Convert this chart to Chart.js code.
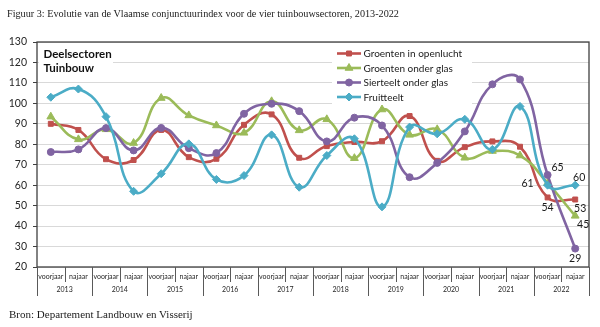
<!DOCTYPE html>
<html>
<head>
<meta charset="utf-8">
<script src="https://cdn.jsdelivr.net/npm/chart.js@4.4.1/dist/chart.umd.min.js"></script>
<style>
  html, body { margin: 0; padding: 0; background: #fff; }
  #wrap { position: relative; width: 600px; height: 327px; overflow: hidden; background: #fff; }
  #c { position: absolute; left: 0; top: 0; }
  .note { position: absolute; left: 7px; font-family: "Liberation Serif", serif; color: #1a1a1a; white-space: nowrap; }
  #title { top: 8px; font-size: 10.2px; }
  #source { top: 308px; left: 9px; font-size: 11px; }
</style>
</head>
<body>
<div id="wrap">
  <canvas id="c" width="600" height="327"></canvas>
  <div id="title" class="note">Figuur 3: Evolutie van de Vlaamse conjunctuurindex voor de vier tuinbouwsectoren, 2013-2022</div>
  <div id="source" class="note">Bron: Departement Landbouw en Visserij</div>
</div>
<script>
// Periods: spring and autumn survey of each year
const years = ['2013', '2014', '2015', '2016', '2017', '2018', '2019', '2020', '2021', '2022'];
const seasons = ['voorjaar', 'najaar'];

// Conjunctuurindex per deelsector
const groentenOpenlucht = [90, 87, 72.7, 72.3, 87, 73.7, 72.9, 89.5, 94.6, 73.4, 79.1, 81.1, 81.5, 93.8, 71.9, 78.6, 81.4, 78.8, 54, 53];
const groentenOnderGlas = [93.5, 82.4, 87.3, 80.6, 102.6, 94.1, 89.2, 85.6, 101, 86.8, 92.2, 73.2, 97, 84.6, 87.3, 73.4, 76.7, 74.5, 61, 45];
const sierteeltOnderGlas = [76.2, 77.5, 87.9, 77, 88, 78.1, 75.7, 94.9, 99.8, 96.2, 81.4, 93, 89.2, 63.9, 70.9, 86.3, 109.3, 111.7, 65, 29];
const fruitteelt = [103, 107, 93.5, 57, 65.6, 80.2, 62.8, 64.7, 84.6, 59, 74.5, 82.7, 49.4, 88.4, 85.1, 92.2, 77.5, 98.5, 60, 60];

const seriesNames = ['Groenten in openlucht', 'Groenten onder glas', 'Sierteelt onder glas', 'Fruitteelt'];
const yTicks = { min: 20, max: 130, step: 10 };

const periodLabels = years.flatMap(y => seasons.map(s => s + ' ' + y));

// Value labels on the last two periods: [series index, period index, dx, dy]
const valueLabels = [
  [2, 18, 10, -7],
  [1, 18, -20, 0],
  [0, 18, 0, 10],
  [3, 19, 4, -8],
  [0, 19, 5, 9],
  [1, 19, 8, 9],
  [2, 19, 0, 10]
];

const FONT = 'Lato, "Liberation Sans", sans-serif';
const INK = '#262626';
const FRAME = '#404040';

const styles = [
  { color: '#C0504D', pointStyle: 'rect', radius: 3.5 },
  { color: '#9BBB59', pointStyle: 'triangle', radius: 4.5 },
  { color: '#8064A2', pointStyle: 'circle', radius: 3.5 },
  { color: '#4BACC6', pointStyle: 'rectRot', radius: 4 }
];
const seriesData = [groentenOpenlucht, groentenOnderGlas, sierteeltOnderGlas, fruitteelt];

const datasets = seriesData.map((d, i) => ({
  label: seriesNames[i],
  data: d,
  borderColor: styles[i].color,
  backgroundColor: styles[i].color,
  pointBackgroundColor: styles[i].color,
  pointBorderColor: styles[i].color,
  pointStyle: styles[i].pointStyle,
  pointRadius: styles[i].radius,
  pointBorderWidth: 1,
  borderWidth: 2.6,
  tension: 0.45,
  fill: false,
  order: seriesData.length - i
}));

// White boxes for the sector caption and the legend, drawn over the gridlines
const boxes = {
  id: 'boxes',
  beforeDatasetsDraw(chart) {
    const ctx = chart.ctx;
    ctx.save();
    ctx.fillStyle = '#fff';
    ctx.fillRect(39, 44, 74, 32);
    ctx.fillRect(332, 44, 140, 60);

    ctx.fillStyle = '#111';
    ctx.font = 'bold 11.5px ' + FONT;
    ctx.textBaseline = 'middle';
    ctx.textAlign = 'left';
    ctx.fillText('Deelsectoren', 43.5, 54.5);
    ctx.fillText('Tuinbouw', 43.5, 68.5);

    const rows = [53.5, 68, 82.5, 97];
    ctx.font = '10px ' + FONT;
    chart.data.datasets.forEach((ds, i) => {
      const y = rows[i];
      ctx.strokeStyle = ds.borderColor;
      ctx.lineWidth = 2.6;
      ctx.beginPath();
      ctx.moveTo(337, y);
      ctx.lineTo(361, y);
      ctx.stroke();
      ctx.fillStyle = ds.borderColor;
      ctx.lineWidth = 1;
      Chart.helpers.drawPoint(ctx, { pointStyle: ds.pointStyle, radius: ds.pointRadius, borderWidth: 1, rotation: 0 }, 349, y);
      ctx.fillStyle = '#1a1a1a';
      ctx.fillText(ds.label, 363.5, y + 0.5);
    });
    ctx.restore();
  }
};

// Plot frame, two-level category axis and value labels
const frame = {
  id: 'frame',
  afterDatasetsDraw(chart) {
    const ctx = chart.ctx;
    const a = chart.chartArea;
    const xs = chart.scales.x;
    ctx.save();

    ctx.strokeStyle = FRAME;
    ctx.lineWidth = 1.3;
    ctx.strokeRect(a.left, a.top, a.right - a.left, a.bottom - a.top);

    // category separators
    const n = periodLabels.length;
    const w = (a.right - a.left) / n;
    ctx.lineWidth = 1;
    ctx.strokeStyle = '#595959';
    for (let k = 0; k <= n; k++) {
      const x = Math.round(a.left + k * w) + 0.5;
      const long = k % seasons.length === 0;
      ctx.beginPath();
      ctx.moveTo(x, a.bottom);
      ctx.lineTo(x, a.bottom + (long ? 29 : 15));
      ctx.stroke();
    }

    ctx.fillStyle = INK;
    ctx.textAlign = 'center';
    ctx.textBaseline = 'middle';
    ctx.font = '7px ' + FONT;
    periodLabels.forEach((p, i) => {
      ctx.fillText(seasons[i % seasons.length], xs.getPixelForValue(i), a.bottom + 10);
    });
    years.forEach((y, j) => {
      const x = a.left + (j * seasons.length + seasons.length / 2) * w;
      ctx.fillText(y, x, a.bottom + 23);
    });

    // value labels
    ctx.font = '10.5px ' + FONT;
    ctx.fillStyle = '#1a1a1a';
    valueLabels.forEach(([s, i, dx, dy]) => {
      const pt = chart.getDatasetMeta(s).data[i];
      const v = chart.data.datasets[s].data[i];
      ctx.fillText(String(Math.round(v)), pt.x + dx, pt.y + dy);
    });
    ctx.restore();
  }
};

new Chart(document.getElementById('c'), {
  type: 'line',
  data: { labels: periodLabels, datasets },
  options: {
    responsive: false,
    devicePixelRatio: 1,
    animation: false,
    layout: { padding: { top: 42, right: 11, left: 0, bottom: 0 } },
    plugins: { legend: { display: false }, tooltip: { enabled: false }, title: { display: false } },
    scales: {
      x: {
        type: 'category',
        offset: true,
        grid: { display: false },
        border: { display: false },
        ticks: { display: false },
        afterFit(scale) { scale.height = 60; }
      },
      y: {
        min: yTicks.min,
        max: yTicks.max,
        ticks: { stepSize: yTicks.step, color: INK, font: { family: FONT, size: 10.5 }, padding: 6 },
        grid: { color: '#d9d9d9', lineWidth: 1, tickLength: 4, tickColor: FRAME, tickWidth: 1 },
        border: { display: false },
        afterFit(scale) { scale.width = 37; }
      }
    }
  },
  plugins: [boxes, frame]
});
</script>
</body>
</html>
